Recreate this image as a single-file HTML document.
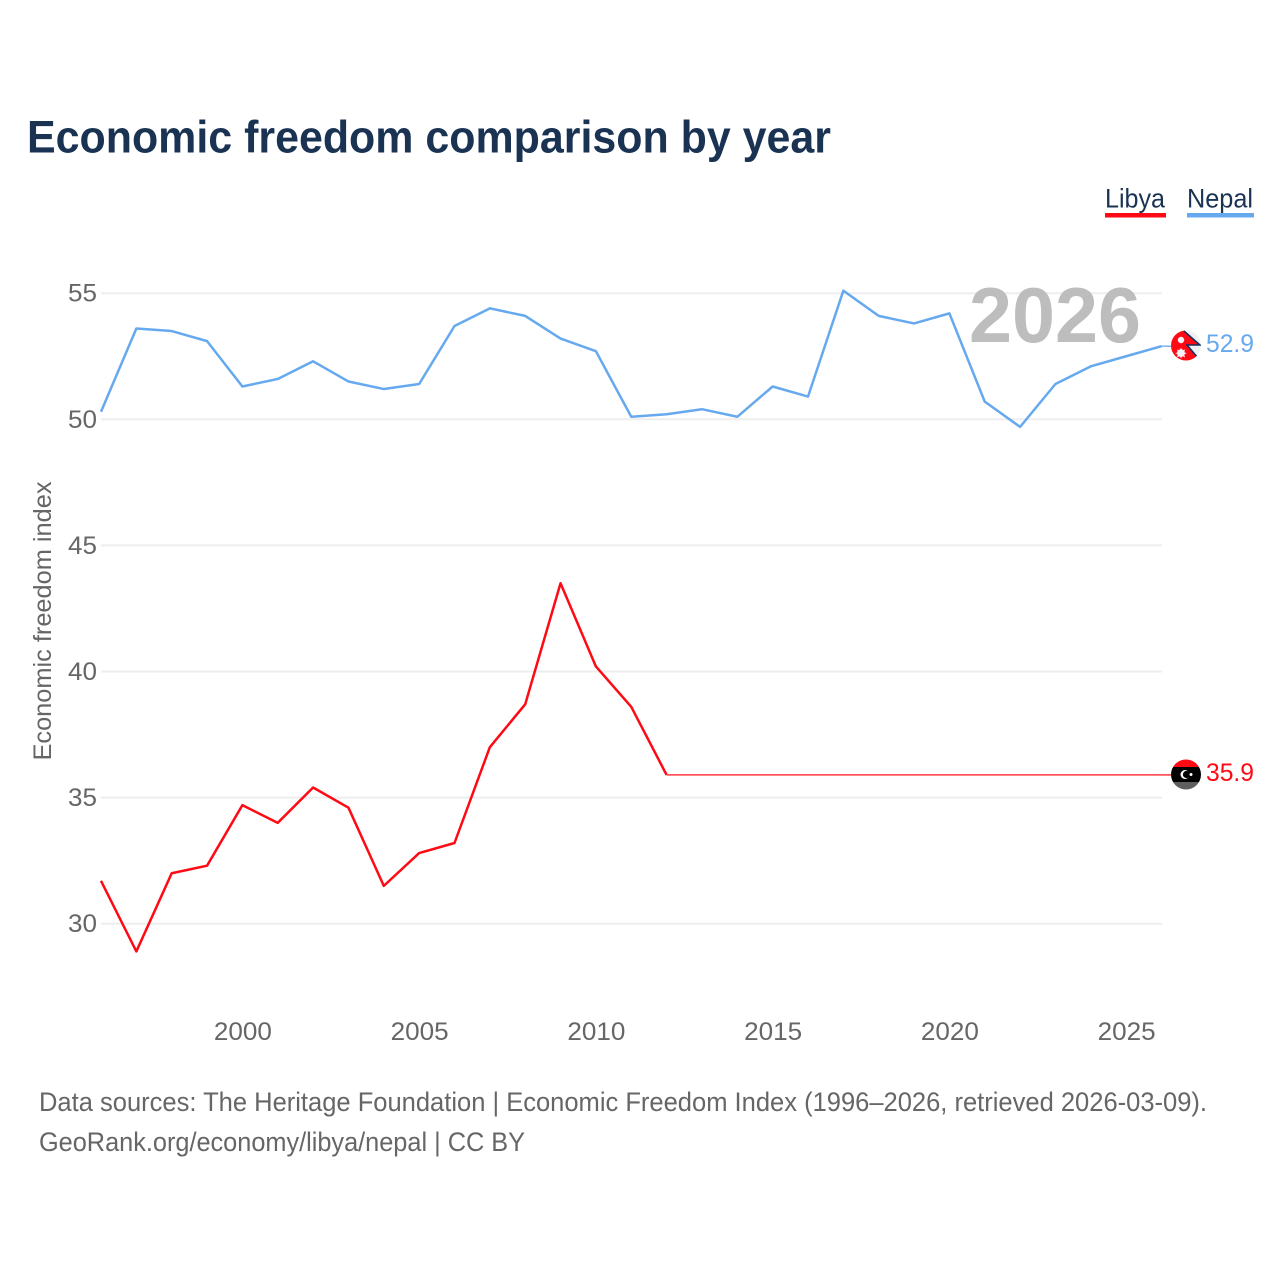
<!DOCTYPE html>
<html lang="en">
<head>
<meta charset="utf-8">
<title>Economic freedom comparison by year</title>
<style>
html,body{margin:0;padding:0;background:#fff;width:1280px;height:1280px;overflow:hidden}
svg{display:block}
text{font-family:"Liberation Sans",sans-serif}
</style>
</head>
<body>
<svg id="chart" xmlns="http://www.w3.org/2000/svg" width="1280" height="1280" viewBox="0 0 1280 1280">
  <rect x="0" y="0" width="1280" height="1280" fill="#ffffff"/>
  <text x="27" y="152.500" font-size="45" font-weight="700" fill="#1a3353" textLength="804" lengthAdjust="spacingAndGlyphs">Economic freedom comparison by year</text>

  <g id="legend">
    <g>
      <text x="1105" y="207.500" font-size="27" fill="#1a3353" textLength="60" lengthAdjust="spacingAndGlyphs">Libya</text>
      <rect x="1105" y="213" width="61" height="4.500" fill="#ff0a14"/>
    </g>
    <g>
      <text x="1187" y="207.500" font-size="27" fill="#1a3353" textLength="66" lengthAdjust="spacingAndGlyphs">Nepal</text>
      <rect x="1187" y="213" width="67" height="4.500" fill="#66a9ee"/>
    </g>
  </g>

  <g id="grid"></g>
  <g id="yticks"></g>
  <g id="xticks"></g>

  <text x="1055" y="342" font-size="78" font-weight="700" fill="#bdbdbd" text-anchor="middle" textLength="172" lengthAdjust="spacingAndGlyphs">2026</text>

  <text transform="translate(51,621) rotate(-90)" font-size="25" fill="#666666" text-anchor="middle" textLength="279" lengthAdjust="spacingAndGlyphs">Economic freedom index</text>

  <g id="series"></g>

  <g id="flag-nepal">
    <defs>
      <clipPath id="clip-np"><circle cx="1186" cy="345.500" r="15"/></clipPath>
      <clipPath id="clip-ly"><circle cx="1186" cy="774.500" r="15"/></clipPath>
    </defs>
    <g clip-path="url(#clip-np)">
      <rect x="1171" y="330" width="30" height="31" fill="#eef0f2"/>
      <polygon points="1171,330 1184,330 1200,345 1187,345 1200,361 1171,361" fill="#ff0a14"/>
      <polyline points="1184,331 1200,345 1187,345 1198,358" fill="none" stroke="#12305c" stroke-width="1.500"/>
      <circle cx="1181" cy="340" r="3.200" fill="#f4f4f4"/>
      <circle cx="1181" cy="353" r="3.800" fill="#f4f4f4"/>
      <polygon points="1181,347.800 1182.300,350.500 1185,349.500 1184.200,352.500 1186.800,353 1184.200,354.500 1185,357.500 1182.300,356 1181,358.500 1179.700,356 1177,357.500 1177.800,354.500 1175.200,353 1177.800,352.500 1177,349.500 1179.700,350.500" fill="#f4f4f4"/>
    </g>
  </g>
  <g id="flag-libya">
    <g clip-path="url(#clip-ly)">
      <rect x="1171" y="759" width="30" height="8" fill="#ff0a14"/>
      <rect x="1171" y="767" width="30" height="15" fill="#000000"/>
      <rect x="1171" y="782" width="30" height="8" fill="#5f5f5f"/>
      <circle cx="1185" cy="774.500" r="4.500" fill="#ffffff"/>
      <circle cx="1186.500" cy="774.500" r="3.600" fill="#000000"/>
      <circle cx="1191" cy="774.500" r="1.500" fill="#ffffff"/>
    </g>
  </g>

  <text x="1254" y="352" font-size="25" fill="#66a9ee" text-anchor="end" textLength="48" lengthAdjust="spacingAndGlyphs">52.9</text>
  <text x="1254" y="781" font-size="25" fill="#ff0a14" text-anchor="end" textLength="48" lengthAdjust="spacingAndGlyphs">35.9</text>

  <text x="39" y="1111" font-size="27" fill="#666666" textLength="1168" lengthAdjust="spacingAndGlyphs">Data sources: The Heritage Foundation | Economic Freedom Index (1996–2026, retrieved 2026-03-09).</text>
  <text x="39" y="1151" font-size="27" fill="#666666" textLength="486" lengthAdjust="spacingAndGlyphs">GeoRank.org/economy/libya/nepal | CC BY</text>
</svg>
<script>
var startYear = 1996;
var nepalValues = [50.3,53.6,53.5,53.1,51.3,51.6,52.3,51.5,51.2,51.4,53.7,54.4,54.1,53.2,52.7,50.1,50.2,50.4,50.1,51.3,50.9,55.1,54.1,53.8,54.2,50.7,49.7,51.4,52.1,52.5,52.9];
var libyaValues = [31.7,28.9,32.0,32.3,34.7,34.0,35.4,34.6,31.5,32.8,33.2,37.0,38.7,43.5,40.2,38.6,35.9,35.9,35.9,35.9,35.9,35.9,35.9,35.9,35.9,35.9,35.9,35.9,35.9,35.9,35.9];
var libyaMeasuredCount = 17;
var yTicks = [30,35,40,45,50,55];
var xTicks = [2000,2005,2010,2015,2020,2025];

var NS = 'http://www.w3.org/2000/svg';
function xScale(year){ return 101 + (year - 1996) * 35.35; }
function yScale(v){ return 419.3 - (v - 50) * 25.22; }
function make(tag, attrs, parent){
  var el = document.createElementNS(NS, tag);
  for (var k in attrs) el.setAttribute(k, attrs[k]);
  parent.appendChild(el);
  return el;
}
function pointsFor(values, from, to){
  var pts = [];
  for (var i = from; i < to; i++) pts.push(xScale(startYear + i).toFixed(2) + ',' + yScale(values[i]).toFixed(2));
  return pts;
}

var grid = document.getElementById('grid');
var yG = document.getElementById('yticks');
yTicks.forEach(function(t){
  var line = make('line', {x1:101, x2:1162, y1:yScale(t), y2:yScale(t), stroke:'#eeeeee', 'stroke-width':2}, grid);
  
  
  var label = make('text', {x:97, y:yScale(t) + 8.5, 'font-size':25, fill:'#666666', 'text-anchor':'end', textLength:29, lengthAdjust:'spacingAndGlyphs'}, yG);
  
  
  label.textContent = t;
});

var xG = document.getElementById('xticks');
xTicks.forEach(function(t){
  var label = make('text', {x:xScale(t) + 0.5, y:1040, 'font-size':25, fill:'#666666', 'text-anchor':'middle', textLength:58, lengthAdjust:'spacingAndGlyphs'}, xG);
  
  
  label.textContent = t;
});

var series = document.getElementById('series');

var nepalLine = make('polyline', {points:pointsFor(nepalValues, 0, nepalValues.length).join(' '), fill:'none', stroke:'#66a9ee', 'stroke-width':2.5, 'stroke-linejoin':'round'}, series);



var nepalLast = nepalValues[nepalValues.length - 1];
var nepalConn = make('line', {x1:xScale(2026), x2:1171, y1:yScale(nepalLast), y2:yScale(nepalLast), stroke:'#66a9ee', 'stroke-width':1.300}, series);



var libyaLine = make('polyline', {points:pointsFor(libyaValues, 0, libyaMeasuredCount).join(' '), fill:'none', stroke:'#ff0a14', 'stroke-width':2.5, 'stroke-linejoin':'round'}, series);



var libyaTail = make('polyline', {points:pointsFor(libyaValues, libyaMeasuredCount - 1, libyaValues.length).join(' '), fill:'none', stroke:'#ff3a40', 'stroke-width':1.500}, series);



var libyaLast = libyaValues[libyaValues.length - 1];
var libyaConn = make('line', {x1:xScale(2026), x2:1171, y1:yScale(libyaLast), y2:yScale(libyaLast), stroke:'#ff3a40', 'stroke-width':1.500}, series);


</script>
</body>
</html>
